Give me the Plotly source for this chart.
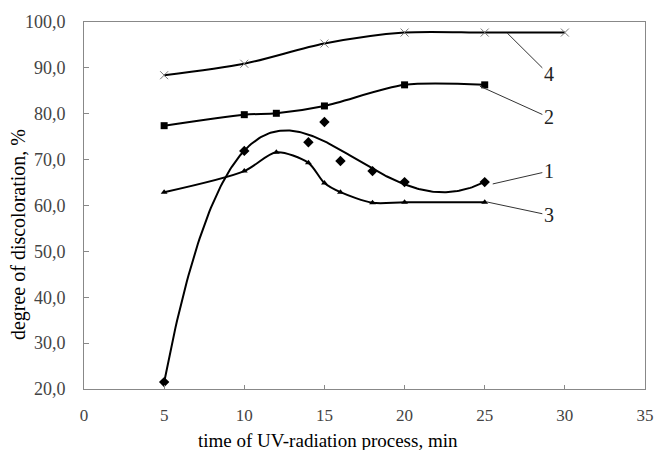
import numpy as np
import plotly.graph_objects as go

# Series data
x1 = [5, 10, 14, 15, 16, 18, 20, 25]
y1 = [21.5, 71.9, 73.8, 78.2, 69.7, 67.5, 65.1, 65.1]

x2 = [5, 10, 12, 15, 20, 25]
y2 = [77.4, 79.8, 80.1, 81.7, 86.3, 86.3]

x3 = [5, 10, 12, 14, 15, 16, 18, 20, 25]
y3 = [62.9, 67.5, 71.6, 69.3, 64.9, 62.9, 60.6, 60.7, 60.7]

x4 = [5, 10, 15, 20, 25, 30]
y4 = [88.4, 90.9, 95.3, 97.7, 97.7, 97.7]

y_ticks = [20, 30, 40, 50, 60, 70, 80, 90, 100]
y_tick_labels = [f"{v:.1f}".replace(".", ",") for v in y_ticks]
x_ticks = [0, 5, 10, 15, 20, 25, 30, 35]

serif = "Liberation Serif, Times New Roman, serif"
ink = "black"

# polynomial trendline for series 1 (as in the original spreadsheet chart)
coef = np.polyfit(x1, y1, 4)
tx = np.linspace(min(x1), max(x1), 200)
ty = np.polyval(coef, tx)

fig = go.Figure()
fig.add_trace(go.Scatter(x=tx, y=ty, mode="lines", line=dict(color=ink, width=2), hoverinfo="skip"))
fig.add_trace(go.Scatter(x=x1, y=y1, mode="markers",
                         marker=dict(symbol="diamond", size=8, color=ink)))
fig.add_trace(go.Scatter(x=x2, y=y2, mode="lines+markers", line=dict(color=ink, width=2, shape="spline", smoothing=0.8),
                         marker=dict(symbol="square", size=7, color=ink)))
fig.add_trace(go.Scatter(x=x3, y=y3, mode="lines+markers", line=dict(color=ink, width=2, shape="spline", smoothing=0.8),
                         marker=dict(symbol="triangle-up", size=6, color=ink)))
fig.add_trace(go.Scatter(x=x4, y=y4, mode="lines+markers", line=dict(color=ink, width=2, shape="spline", smoothing=0.8),
                         marker=dict(symbol="x-thin", size=8, line=dict(color="#777", width=1))))

labels = [
    ("4", 26.4, 97.6, 29.0, 88.6),
    ("2", 24.7, 86.0, 29.0, 79.2),
    ("1", 25.5, 64.7, 29.0, 67.5),
    ("3", 25.1, 60.8, 29.0, 57.9),
]
for txt, px, py, tx_, ty_ in labels:
    fig.add_annotation(x=px, y=py, ax=tx_, ay=ty_, axref="x", ayref="y", xref="x", yref="y",
                       text=txt, showarrow=True, arrowhead=0, arrowwidth=1, arrowcolor="#333",
                       font=dict(family=serif, size=20, color="#222"))

fig.add_annotation(text="time of UV-radiation process, min", xref="paper", yref="paper",
                   x=(332 - 84) / 570, y=-51 / 367, xanchor="center", yanchor="middle", showarrow=False,
                   font=dict(family=serif, size=19, color="black"))
fig.add_annotation(text="degree of discoloration, %", xref="paper", yref="paper",
                   x=-67 / 570, y=(389 - 235) / 367, xanchor="center", yanchor="middle", showarrow=False,
                   textangle=-90, font=dict(family=serif, size=20, color="black"))

fig.update_layout(
    width=663, height=450, showlegend=False,
    margin=dict(l=84, r=9, t=22, b=61),
    paper_bgcolor="white", plot_bgcolor="white",
    font=dict(family=serif),
    xaxis=dict(range=[0, 35], tickvals=x_ticks, ticks="inside", ticklen=4, tickcolor="#888",
               showline=True, linecolor="#888", linewidth=1, mirror=True, showgrid=False, zeroline=False,
               ticklabelstandoff=11,
               tickfont=dict(family=serif, size=17, color="#444")),
    yaxis=dict(range=[20, 100], tickvals=y_ticks, ticktext=y_tick_labels, ticks="inside", ticklen=5, tickcolor="#888",
               showline=True, linecolor="#888", linewidth=1, mirror=True, showgrid=False, zeroline=False,
               ticklabelstandoff=14,
               tickfont=dict(family=serif, size=18, color="#444")),
)
fig.write_html("out.html")
